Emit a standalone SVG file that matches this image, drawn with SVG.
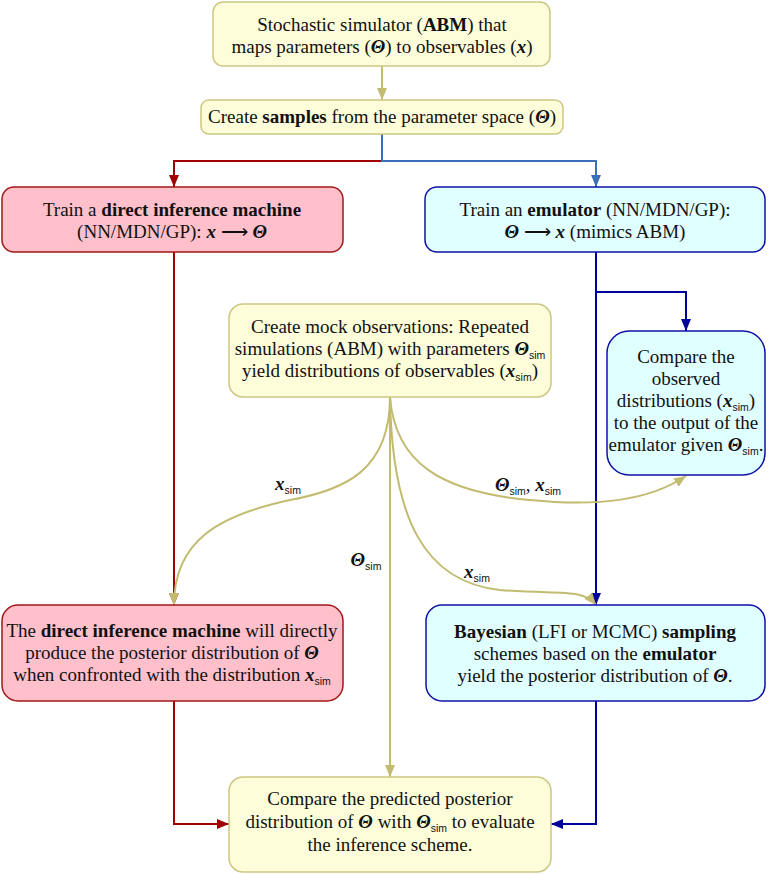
<svg xmlns="http://www.w3.org/2000/svg" width="768" height="874" viewBox="0 0 768 874">
<style>
text{font-family:"Liberation Serif","Times New Roman",serif;font-size:19px;fill:#111;text-anchor:middle}
.b{font-weight:bold}
.bi{font-weight:bold;font-style:italic}
.s{font-family:"Liberation Sans",Arial,sans-serif;font-size:10.5px;font-weight:normal;font-style:normal}
.y{fill:#fdfdd9;stroke:#cdc683;stroke-width:1.5}
.r{fill:#ffc0cb;stroke:#a01818;stroke-width:1.5}
.c{fill:#e0ffff;stroke:#1010a8;stroke-width:1.5}
.e{fill:none;stroke-width:2}
.ol{stroke:#c2bb70}
.rd{stroke:#a00000}
.bl{stroke:#00009a}
.sb{stroke:#3a70ba}
</style>
<defs>
<marker id="mo" markerUnits="userSpaceOnUse" markerWidth="12" markerHeight="12" refX="12" refY="6" orient="auto"><path d="M0,1 L12,6 L0,11 z" fill="#c2bb70"/></marker>
<marker id="mr" markerUnits="userSpaceOnUse" markerWidth="12" markerHeight="12" refX="12" refY="6" orient="auto"><path d="M0,1 L12,6 L0,11 z" fill="#a00000"/></marker>
<marker id="mb" markerUnits="userSpaceOnUse" markerWidth="12" markerHeight="12" refX="12" refY="6" orient="auto"><path d="M0,1 L12,6 L0,11 z" fill="#00009a"/></marker>
<marker id="ms" markerUnits="userSpaceOnUse" markerWidth="12" markerHeight="12" refX="12" refY="6" orient="auto"><path d="M0,1 L12,6 L0,11 z" fill="#3a70ba"/></marker>
</defs>
<rect width="768" height="874" fill="#fff"/>
<g id="connectors">
<path class="e ol" d="M382,66 V100" marker-end="url(#mo)"/>
<path class="e rd" d="M382,161 H174 V187" marker-end="url(#mr)"/>
<path class="e sb" d="M382,134 V161 H596 V187" marker-end="url(#ms)"/>
<path class="e rd" d="M174,252 V605" marker-end="url(#mr)"/>
<path class="e bl" d="M596,252 V605" marker-end="url(#mb)"/>
<path class="e bl" d="M596,292 H686 V331" marker-end="url(#mb)"/>
<path class="e rd" d="M174,701 V824 H229" marker-end="url(#mr)"/>
<path class="e bl" d="M596,701 V824 H551" marker-end="url(#mb)"/>
<path class="e ol" d="M390,397 C390,470 345,490 290,500 C220,515 174,540 174,605" marker-end="url(#mo)"/>
<path class="e ol" d="M390,397 V777" marker-end="url(#mo)"/>
<path class="e ol" d="M390,397 C392,520 425,582 500,590 C560,595 582,588 596,605" marker-end="url(#mo)"/>
<path class="e ol" d="M390,397 C395,462 440,492 530,500 C600,507 650,500 686,476" marker-end="url(#mo)"/>
<text x="288" y="490"><tspan class="bi">x</tspan><tspan class="s" dy="4">sim</tspan></text>
<text x="366" y="566"><tspan class="bi">Θ</tspan><tspan class="s" dy="4">sim</tspan></text>
<text x="477" y="578"><tspan class="bi">x</tspan><tspan class="s" dy="4">sim</tspan></text>
<text x="528" y="491"><tspan class="bi">Θ</tspan><tspan class="s" dy="4">sim</tspan><tspan dy="-4">, </tspan><tspan class="bi">x</tspan><tspan class="s" dy="4">sim</tspan></text>
</g>
<g id="n1">
<rect class="y" x="213" y="2" width="337" height="64" rx="10"/>
<text x="382" y="31">Stochastic simulator (<tspan class="b">ABM</tspan>) that</text>
<text x="382" y="53">maps parameters (<tspan class="bi">Θ</tspan>) to observables (<tspan class="bi">x</tspan>)</text>
</g>
<g id="n2">
<rect class="y" x="201" y="100" width="362" height="34" rx="8"/>
<text x="382" y="123">Create <tspan class="b">samples</tspan> from the parameter space (<tspan class="bi">Θ</tspan>)</text>
</g>
<g id="n3">
<rect class="r" x="2" y="187" width="341" height="65" rx="12"/>
<text x="172" y="216">Train a <tspan class="b">direct inference machine</tspan></text>
<text x="172" y="238">(NN/MDN/GP): <tspan class="bi">x</tspan> ⟶ <tspan class="bi">Θ</tspan></text>
</g>
<g id="n4">
<rect class="c" x="425" y="187" width="340" height="65" rx="12"/>
<text x="595" y="216">Train an <tspan class="b">emulator</tspan> (NN/MDN/GP):</text>
<text x="595" y="238"><tspan class="bi">Θ</tspan> ⟶ <tspan class="bi">x</tspan> (mimics ABM)</text>
</g>
<g id="n5">
<rect class="y" x="229" y="304" width="322" height="93" rx="14"/>
<text x="390" y="333">Create mock observations: Repeated</text>
<text x="390" y="355">simulations (ABM) with parameters <tspan class="bi">Θ</tspan><tspan class="s" dy="4">sim</tspan></text>
<text x="390" y="377">yield distributions of observables (<tspan class="bi">x</tspan><tspan class="s" dy="4">sim</tspan><tspan dy="-4">)</tspan></text>
</g>
<g id="n6">
<rect class="c" x="607" y="331" width="158" height="144" rx="22"/>
<text x="686" y="363">Compare the</text>
<text x="686" y="385">observed</text>
<text x="686" y="407">distributions (<tspan class="bi">x</tspan><tspan class="s" dy="4">sim</tspan><tspan dy="-4">)</tspan></text>
<text x="686" y="429">to the output of the</text>
<text x="686" y="451">emulator given <tspan class="bi">Θ</tspan><tspan class="s" dy="4">sim</tspan><tspan dy="-4">.</tspan></text>
</g>
<g id="n7">
<rect class="r" x="2" y="605" width="341" height="96" rx="16"/>
<text x="172" y="637">The <tspan class="b">direct inference machine</tspan> will directly</text>
<text x="172" y="659">produce the posterior distribution of <tspan class="bi">Θ</tspan></text>
<text x="172" y="681">when confronted with the distribution <tspan class="bi">x</tspan><tspan class="s" dy="4">sim</tspan></text>
</g>
<g id="n8">
<rect class="c" x="426" y="605" width="339" height="96" rx="16"/>
<text x="595" y="638"><tspan class="b">Bayesian</tspan> (LFI or MCMC) <tspan class="b">sampling</tspan></text>
<text x="595" y="660">schemes based on the <tspan class="b">emulator</tspan></text>
<text x="595" y="682">yield the posterior distribution of <tspan class="bi">Θ</tspan>.</text>
</g>
<g id="n9">
<rect class="y" x="229" y="777" width="322" height="95" rx="14"/>
<text x="390" y="805">Compare the predicted posterior</text>
<text x="390" y="828">distribution of <tspan class="bi">Θ</tspan> with <tspan class="bi">Θ</tspan><tspan class="s" dy="4">sim</tspan><tspan dy="-4"> to evaluate</tspan></text>
<text x="390" y="851">the inference scheme.</text>
</g>
</svg>
